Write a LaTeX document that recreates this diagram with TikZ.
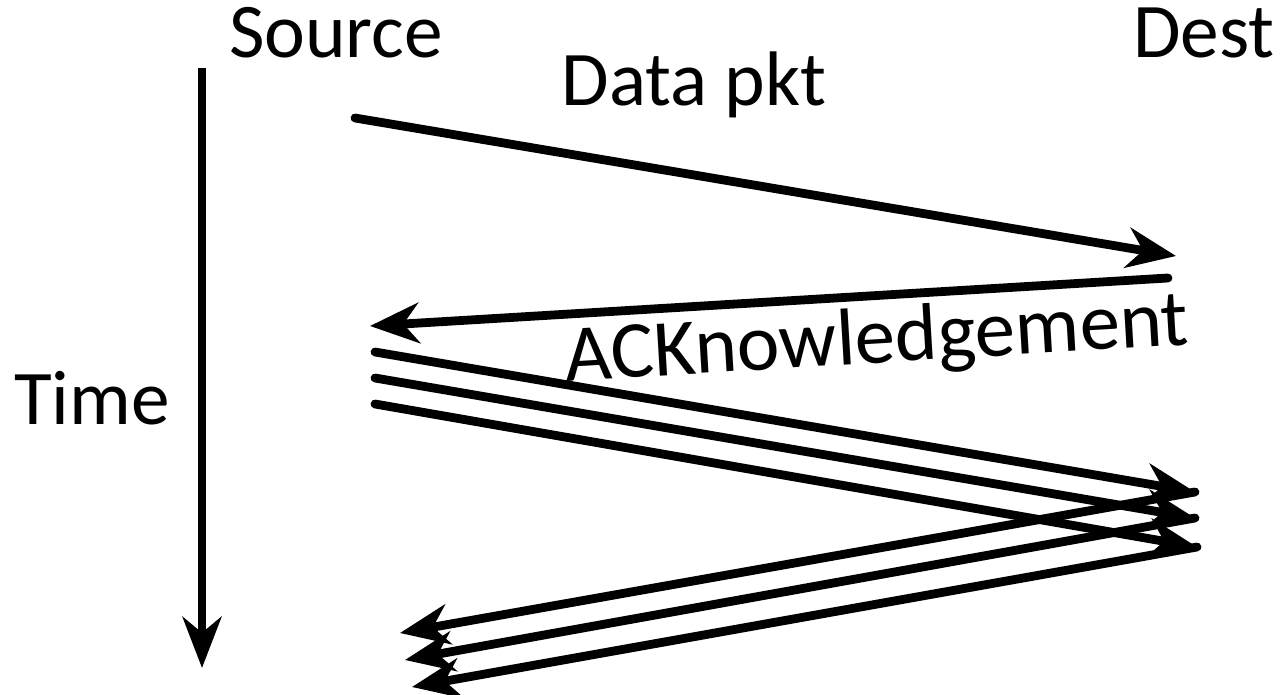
\documentclass[tikz,border=0pt]{standalone}
\usepackage{fontspec}
\setmainfont{Carlito}
\usetikzlibrary{arrows.meta}

\tikzset{
  msg/.style={line width=5pt, line cap=round, -{Stealth[length=28pt, width=23pt, inset=9pt]}},
  lbl/.style={font=\fontsize{44}{52}\selectfont, anchor=base, inner sep=0pt}
}

\begin{document}
\begin{tikzpicture}[x=0.02cm, y=-0.02cm]
\useasboundingbox (0,0) rectangle (1282,695);
% labels
\node[lbl] (src) at (336,58) {Source};
\node[lbl] (dst) at (1204,58) {Dest};
\node[lbl] (data) at (694,106) {Data pkt};
\node[lbl] (time) at (92,425) {Time};
\node[lbl, font=\fontsize{46}{54}\selectfont, rotate=3.4] (ack) at (878,363) {ACKnowledgement};
% end points
\coordinate (t0) at (202,68);   \coordinate (t1) at (202,668);
\coordinate (s0) at (355,118);  \coordinate (d0) at (1176,256);
\coordinate (d1) at (1168,278); \coordinate (s1) at (370,326);
\coordinate (s2) at (375,352);  \coordinate (d2) at (1195,492);
\coordinate (s3) at (375,378);  \coordinate (d3) at (1195,518);
\coordinate (s4) at (375,404);  \coordinate (d4) at (1197,547);
\coordinate (r2) at (400,633);  \coordinate (r3) at (405,660);
\coordinate (r4) at (412,687);
% time axis
\draw[msg, line cap=butt, -{Stealth[length=29pt, width=22pt, inset=9pt]}] (t0) -- (t1);
% one packet and its ack
\draw[msg] (s0) -- (d0);
\draw[msg] (d1) -- (s1);
% three packets, three acks
\draw[msg] (s2) -- (d2);
\draw[msg] (s3) -- (d3);
\draw[msg] (s4) -- (d4);
\draw[msg] (d2) -- (r2);
\draw[msg] (d3) -- (r3);
\draw[msg] (d4) -- (r4);
\end{tikzpicture}
\end{document}
